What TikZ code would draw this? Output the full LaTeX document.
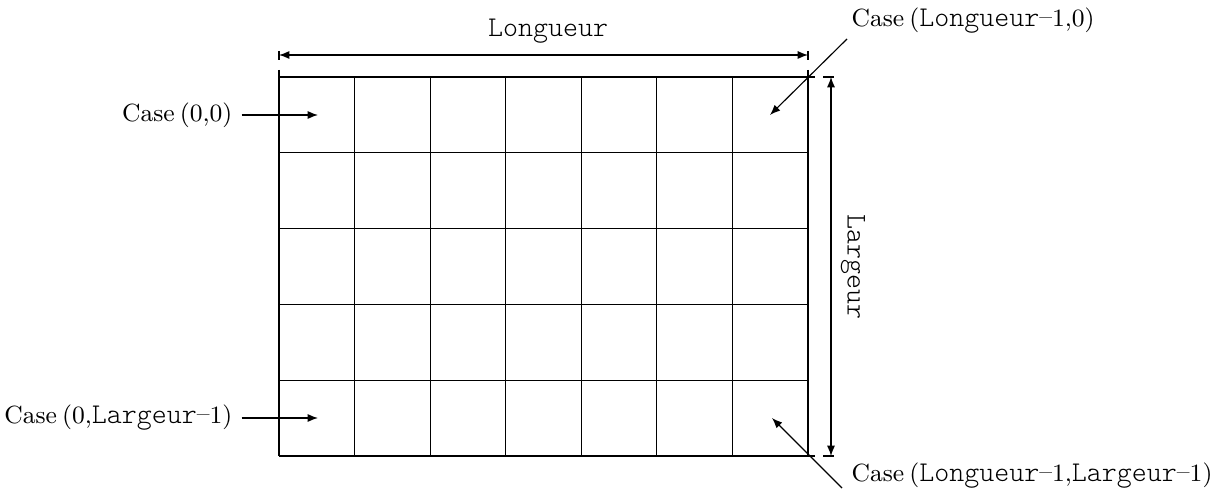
\documentclass[tikz,border=0pt]{standalone}
\usetikzlibrary{arrows.meta}
\newcommand\mtt[1]{{\fontsize{10}{12}\ttfamily\fontseries{l}\selectfont #1}}
\newcommand\mminus{\raisebox{0.7pt}{\textendash}}
\newcommand\nsp{\hspace{1.8pt}}
\begin{document}
\begin{tikzpicture}[x=0.35pt,y=-0.35pt,
  gridline/.style={line width=0.45pt},
  pointer/.style={line width=0.4pt,-{Latex[length=3.6pt,width=2.8pt]}},
  dimarrow/.style={line width=0.4pt,{Latex[length=3.6pt,width=2.8pt]}-{Latex[length=3.6pt,width=2.8pt]}},
  lbl/.style={inner sep=0pt,font=\fontsize{8.7}{10}\selectfont}]
\useasboundingbox (0,0) rectangle (1215,490);
% grid
\foreach \i in {1,...,6} {
  \draw[gridline] ({279+\i*75.57},77) -- ({279+\i*75.57},456);
}
\foreach \j in {1,...,4} {
  \draw[gridline] (279,{77+\j*75.8}) -- (808,{77+\j*75.8});
}
\draw[gridline] (279,77) -- (815,77);
\draw[gridline] (279,456) -- (815,456);
\draw[gridline] (279,70) -- (279,456);
\draw[gridline] (808,70) -- (808,456);
% dimension Longueur
\coordinate (lL) at (279,55);
\coordinate (lR) at (808,55);
\draw[line width=0.4pt] (279,51) -- (279,60);
\draw[line width=0.4pt] (808,51) -- (808,60);
\draw[dimarrow] (lL) -- (lR);
\node[lbl] (lon) at (548,31) {\mtt{Longueur}};
% dimension Largeur
\coordinate (hT) at (831,77);
\coordinate (hB) at (831,456);
\draw[line width=0.4pt] (823,77) -- (834,77);
\draw[line width=0.4pt] (823,456) -- (834,456);
\draw[dimarrow] (hT) -- (hB);
\node[lbl,rotate=-90] (lar) at (853,267) {\mtt{Largeur}};
% labels
\node[lbl,anchor=east] (c00) at (233,115) {Case\nsp(0,0)};
\node[lbl,anchor=east] (c0L) at (233,418) {Case\nsp(0,\mtt{Largeur}\mminus1)};
\node[lbl,anchor=west] (cL0) at (851,21) {Case\nsp(\mtt{Longueur}\mminus1,0)};
\node[lbl,anchor=west] (cLL) at (851,476) {Case\nsp(\mtt{Longueur}\mminus1,\mtt{Largeur}\mminus1)};
% pointers
\coordinate (p00) at (318,115);
\coordinate (p0L) at (318,418);
\coordinate (pL0) at (770,115);
\coordinate (pLL) at (772,418);
\coordinate (sL0) at (847,39);
\coordinate (sLL) at (842,488);
\draw[pointer] ([xshift=3pt]c00.east) -- (p00);
\draw[pointer] ([xshift=3pt]c0L.east) -- (p0L);
\draw[pointer] (sL0) -- (pL0);
\draw[pointer] (sLL) -- (pLL);
\end{tikzpicture}
\end{document}
